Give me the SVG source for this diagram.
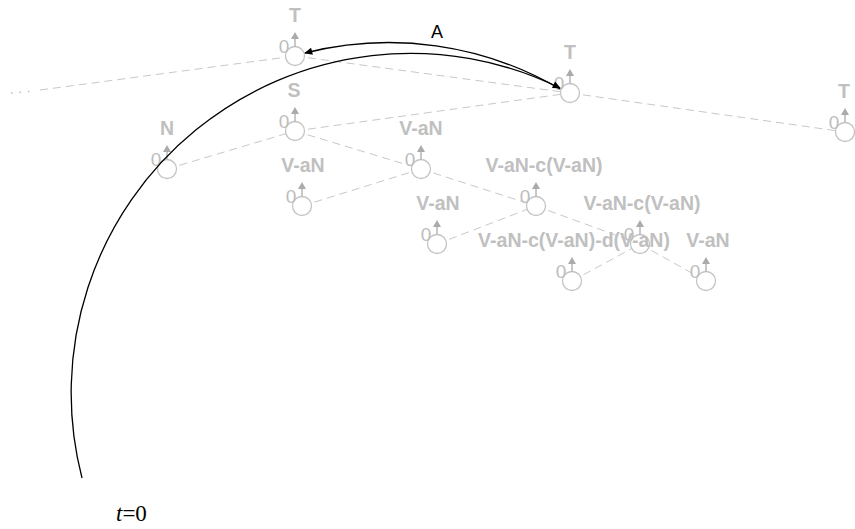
<svg xmlns="http://www.w3.org/2000/svg" width="855" height="529" viewBox="0 0 855 529">
<defs>
<style>
.edge{stroke:#c8c8c8;stroke-width:1;stroke-dasharray:8,5;fill:none}
.dots{stroke:#b8b8b8;stroke-width:1.3;stroke-dasharray:1.5,7;fill:none}
.nc{fill:#fff;stroke:#c4c4c4;stroke-width:1.3}
.ar{stroke:#ababab;stroke-width:1.3}
.ah{fill:#ababab}
.zero{font-family:"Liberation Sans",Arial,sans-serif;font-size:19px;fill:#bdbdbd;text-anchor:middle}
.lbl{font-family:"Liberation Sans",Arial,sans-serif;font-size:19.5px;font-weight:bold;fill:#c0c0c0;text-anchor:middle}
.arc{stroke:#000;stroke-width:1.3;fill:none;marker-end:url(#blk)}
</style>
<marker id="blk" viewBox="0 0 10 10" refX="9" refY="5" markerWidth="10" markerHeight="8" markerUnits="userSpaceOnUse" orient="auto">
<path d="M0,0.5 L10,5 L0,9.5 z" fill="#000"/>
</marker>
</defs>
<rect width="855" height="529" fill="#fff"/>
<g id="connectors">
<line class="dots" x1="11" y1="93" x2="34" y2="91"/>
<line class="edge" x1="40" y1="90" x2="295" y2="56"/>
<line class="edge" x1="295" y1="56" x2="570" y2="93"/>
<line class="edge" x1="570" y1="93" x2="845" y2="132"/>
<line class="edge" x1="295" y1="131" x2="570" y2="93"/>
<line class="edge" x1="167" y1="169" x2="295" y2="131"/>
<line class="edge" x1="295" y1="131" x2="421" y2="169"/>
<line class="edge" x1="302" y1="206" x2="421" y2="169"/>
<line class="edge" x1="421" y1="169" x2="536" y2="206"/>
<line class="edge" x1="437" y1="244" x2="536" y2="206"/>
<line class="edge" x1="536" y1="206" x2="640" y2="244"/>
<line class="edge" x1="572" y1="281" x2="640" y2="244"/>
<line class="edge" x1="640" y1="244" x2="706" y2="281"/>
</g>
<g id="n-T1"><circle class="nc" cx="295" cy="56" r="9.5"/><line class="ar" x1="295" y1="46.5" x2="295" y2="38"/><path class="ah" d="M291,39 L299,39 L295,32 z"/><text class="zero" x="284" y="53">0</text><text class="lbl" x="295" y="22">T</text></g>
<g id="n-T2"><circle class="nc" cx="570" cy="93" r="9.5"/><line class="ar" x1="570" y1="83.5" x2="570" y2="75"/><path class="ah" d="M566,76 L574,76 L570,69 z"/><text class="zero" x="559" y="90">0</text><text class="lbl" x="570" y="59">T</text></g>
<g id="n-T3"><circle class="nc" cx="845" cy="132" r="9.5"/><line class="ar" x1="845" y1="122.5" x2="845" y2="114"/><path class="ah" d="M841,115 L849,115 L845,108 z"/><text class="zero" x="834" y="129">0</text><text class="lbl" x="844" y="98">T</text></g>
<g id="n-S"><circle class="nc" cx="295" cy="131" r="9.5"/><line class="ar" x1="295" y1="121.5" x2="295" y2="113"/><path class="ah" d="M291,114 L299,114 L295,107 z"/><text class="zero" x="284" y="128">0</text><text class="lbl" x="294" y="97">S</text></g>
<g id="n-N"><circle class="nc" cx="167" cy="169" r="9.5"/><line class="ar" x1="167" y1="159.5" x2="167" y2="151"/><path class="ah" d="M163,152 L171,152 L167,145 z"/><text class="zero" x="156" y="166">0</text><text class="lbl" x="167" y="135">N</text></g>
<g id="n-VaN1"><circle class="nc" cx="421" cy="169" r="9.5"/><line class="ar" x1="421" y1="159.5" x2="421" y2="151"/><path class="ah" d="M417,152 L425,152 L421,145 z"/><text class="zero" x="410" y="166">0</text><text class="lbl" x="421" y="135">V-aN</text></g>
<g id="n-VaN2"><circle class="nc" cx="302" cy="206" r="9.5"/><line class="ar" x1="302" y1="196.5" x2="302" y2="188"/><path class="ah" d="M298,189 L306,189 L302,182 z"/><text class="zero" x="291" y="203">0</text><text class="lbl" x="303" y="172">V-aN</text></g>
<g id="n-VaNc1"><circle class="nc" cx="536" cy="206" r="9.5"/><line class="ar" x1="536" y1="196.5" x2="536" y2="188"/><path class="ah" d="M532,189 L540,189 L536,182 z"/><text class="zero" x="525" y="203">0</text><text class="lbl" x="544" y="172">V-aN-c(V-aN)</text></g>
<g id="n-VaN3"><circle class="nc" cx="437" cy="244" r="9.5"/><line class="ar" x1="437" y1="234.5" x2="437" y2="226"/><path class="ah" d="M433,227 L441,227 L437,220 z"/><text class="zero" x="426" y="241">0</text><text class="lbl" x="438" y="210">V-aN</text></g>
<g id="n-VaNc2"><circle class="nc" cx="640" cy="244" r="9.5"/><line class="ar" x1="640" y1="234.5" x2="640" y2="226"/><path class="ah" d="M636,227 L644,227 L640,220 z"/><text class="zero" x="629" y="241">0</text><text class="lbl" x="642" y="210">V-aN-c(V-aN)</text></g>
<g id="n-VaNcd"><circle class="nc" cx="572" cy="281" r="9.5"/><line class="ar" x1="572" y1="271.5" x2="572" y2="263"/><path class="ah" d="M568,264 L576,264 L572,257 z"/><text class="zero" x="561" y="278">0</text><text class="lbl" x="574" y="247">V-aN-c(V-aN)-d(V-aN)</text></g>
<g id="n-VaN4"><circle class="nc" cx="706" cy="281" r="9.5"/><line class="ar" x1="706" y1="271.5" x2="706" y2="263"/><path class="ah" d="M702,264 L710,264 L706,257 z"/><text class="zero" x="695" y="278">0</text><text class="lbl" x="708" y="247">V-aN</text></g>
<g id="arcs">
<path class="arc" d="M82,478 A339.5,339.5 0 0 1 560,88"/>
<path class="arc" d="M560,89 A339.5,339.5 0 0 0 305,53"/>
<text x="437" y="38" font-family="Liberation Sans,Arial,sans-serif" font-size="18" text-anchor="middle" fill="#000">A</text>
</g>
<text x="116" y="521" font-family="Liberation Serif,Times New Roman,serif" font-size="23" fill="#000"><tspan font-style="italic">t</tspan>=0</text>
</svg>
